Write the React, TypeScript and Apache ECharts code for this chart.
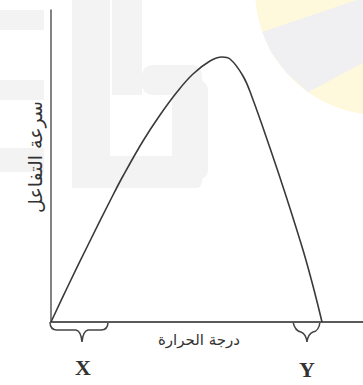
import React, { useEffect, useRef } from "react";
import * as echarts from "echarts";

// Curve points (temperature, reaction rate) in axis units
const temperature = [0, 17, 37, 61, 72, 92, 109, 126, 142, 159, 171, 179, 192, 201, 219, 236, 252, 262, 271];
const rate = [0, 36, 77, 125, 146, 181, 207, 230, 248, 261, 265, 263, 246, 225, 174, 123, 72, 36, 0];

const xAxisTitle = "درجة الحرارة";
const yAxisTitle = "سرعة التفاعل";
const braceLabels = ["X", "Y"];

echarts.graphic.registerShape(
  "braceX",
  echarts.graphic.extendPath(
    "M0,0 Q0,8 7,8 L26,8 Q31,9 32,20 Q33,9 38,8 L51,8 Q58,8 58,0",
    {}
  )
);
echarts.graphic.registerShape(
  "braceY",
  echarts.graphic.extendPath(
    "M0,0 Q2,9 8,10 Q13,12 14,20 Q15,12 20,10 Q26,9 27,0",
    {}
  )
);

export default function App() {
  const ref = useRef<HTMLDivElement>(null);
  useEffect(() => {
    if (!ref.current) return;
    const chart = echarts.init(ref.current, undefined, { renderer: "svg" });
    const data = temperature.map((t, i) => [t, rate[i]]);
    const wm = "#f3f3f3";
    chart.setOption({
      animation: false,
      backgroundColor: "#ffffff",
      grid: { left: 51, right: 0, top: 10, bottom: 63 },
      xAxis: {
        type: "value",
        min: 0,
        max: 312,
        axisLine: { show: true, lineStyle: { color: "#5a5a5a", width: 2 } },
        axisTick: { show: false },
        axisLabel: { show: false },
        splitLine: { show: false },
      },
      yAxis: {
        type: "value",
        min: 0,
        max: 312,
        axisLine: { show: true, lineStyle: { color: "#5a5a5a", width: 1.5 } },
        axisTick: { show: false },
        axisLabel: { show: false },
        splitLine: { show: false },
      },
      graphic: [
        // faint watermark
        { type: "rect", z: -10, shape: { x: 72, y: 0, width: 38, height: 188 }, style: { fill: wm } },
        { type: "rect", z: -10, shape: { x: 72, y: 156, width: 130, height: 32, r: 6 }, style: { fill: wm } },
        { type: "rect", z: -10, shape: { x: 112, y: 0, width: 30, height: 95 }, style: { fill: wm } },
        { type: "rect", z: -10, shape: { x: 142, y: 65, width: 60, height: 30, r: 10 }, style: { fill: wm } },
        { type: "rect", z: -10, shape: { x: 172, y: 80, width: 36, height: 100, r: 10 }, style: { fill: wm } },
        { type: "rect", z: -10, shape: { x: 0, y: 10, width: 44, height: 20 }, style: { fill: wm } },
        { type: "rect", z: -10, shape: { x: 0, y: 80, width: 44, height: 20 }, style: { fill: wm } },
        { type: "rect", z: -10, shape: { x: 0, y: 148, width: 44, height: 24 }, style: { fill: wm } },
        { type: "circle", z: -10, shape: { cx: 380, cy: -10, r: 125 }, style: { fill: "#fef8dc" } },
        {
          type: "polygon",
          z: -9,
          shape: { points: [[262, 32], [363, -2], [363, 63], [308, 92], [286, 72], [271, 52]] },
          style: { fill: "#f0eff2" },
        },
        // braces
        {
          type: "braceX",
          x: 50,
          y: 322,
          style: { fill: "none", stroke: "#444", lineWidth: 1.5 },
        },
        {
          type: "braceY",
          x: 293,
          y: 322,
          style: { fill: "none", stroke: "#444", lineWidth: 1.5 },
        },
        {
          type: "text",
          x: 83,
          y: 367,
          style: {
            text: braceLabels[0],
            fontFamily: "Liberation Serif",
            fontWeight: "bold",
            fontSize: 22,
            fill: "#333",
            align: "center",
            verticalAlign: "middle",
          },
        },
        {
          type: "text",
          x: 307,
          y: 369,
          style: {
            text: braceLabels[1],
            fontFamily: "Liberation Serif",
            fontWeight: "bold",
            fontSize: 22,
            fill: "#333",
            align: "center",
            verticalAlign: "middle",
          },
        },
        {
          type: "text",
          x: 199,
          y: 340,
          style: {
            text: xAxisTitle,
            fontFamily: "DejaVu Sans",
            fontSize: 15,
            fill: "#333",
            align: "center",
            verticalAlign: "middle",
          },
        },
        {
          type: "text",
          x: 35,
          y: 157,
          rotation: Math.PI / 2,
          style: {
            text: yAxisTitle,
            fontFamily: "DejaVu Sans",
            fontSize: 19,
            fill: "#333",
            align: "center",
            verticalAlign: "middle",
          },
        },
      ],
      series: [
        {
          type: "line",
          data,
          smooth: 0.4,
          symbol: "none",
          lineStyle: { color: "#3a3a3a", width: 1.6 },
        },
      ],
    });
    return () => chart.dispose();
  }, []);
  return (
    <div
      ref={ref}
      style={{ position: "fixed", left: 0, top: 0, width: 363, height: 385 }}
    />
  );
}
